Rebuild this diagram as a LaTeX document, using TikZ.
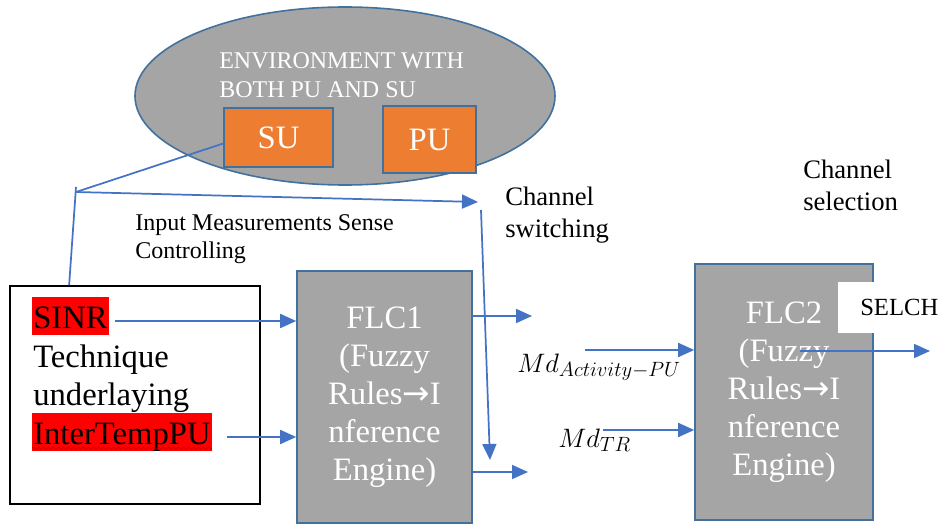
\documentclass[tikz,border=0pt]{standalone}
\usepackage{fix-cm}
\usepackage{fontspec}
\setmainfont{Liberation Serif}
\newfontfamily\arrowfont{DejaVu Sans}
\usetikzlibrary{arrows.meta,shapes.geometric,decorations.pathmorphing}

\definecolor{boxgray}{HTML}{A5A5A5}
\definecolor{rimblue}{HTML}{41719C}
\definecolor{arrowblue}{HTML}{4472C4}
\definecolor{suorange}{HTML}{ED7D31}
\newdimen\pxu
\pxu=0.75pt
\newcommand{\ruleto}{{\arrowfont →}}
\newcommand{\subtext}[1]{\mbox{\fontsize{15.5}{15.5}\selectfont$#1$}}

\tikzset{
    flow/.style={draw=arrowblue, line width=1.3pt, -{Triangle[length=12pt,width=10.5pt]}},
    wire/.style={draw=arrowblue, line width=1.3pt},
    bigtext/.style={font=\rmfamily\fontsize{24.5}{29}\selectfont, inner xsep=0},
    redmark/.style={bigtext, fill=red, inner xsep=1\pxu, inner ysep=0, text height=31\pxu, text depth=7\pxu},
    flcbox/.style={draw=rimblue, line width=1.2pt, fill=boxgray, text=white, align=center,
        font=\rmfamily\fontsize{24.5}{28.5}\selectfont},
    userbox/.style={draw=rimblue, line width=1.2pt, fill=suorange, text=white,
        font=\rmfamily\fontsize{24.5}{28}\selectfont},
    chantext/.style={font=\rmfamily\fontsize{20}{24}\selectfont, align=left, anchor=west, inner sep=0},
    mdtext/.style={anchor=base west, inner sep=0, font=\fontsize{20}{22}\selectfont}
}

\begin{document}
\begin{tikzpicture}[x=0.75pt, y=-0.75pt]
    \useasboundingbox (0,0) rectangle (942,524);

    % environment with the two users
    \node[ellipse, draw=rimblue, line width=1.2pt, fill=boxgray,
        minimum width=420\pxu, minimum height=178\pxu] (env) at (345,96) {};
    \node[text=white, align=left, anchor=west, inner sep=0,
        font=\rmfamily\fontsize{18}{22}\selectfont] (envtext) at (219,75) {ENVIRONMENT WITH\\BOTH PU AND SU};
    \node[userbox, minimum width=109\pxu, minimum height=59\pxu] (su) at (278.5,137.5) {SU};
    \node[userbox, minimum width=93\pxu, minimum height=67\pxu] (pu) at (429.5,139.5) {PU};

    % input measurements
    \node[draw=black, line width=1.3pt, minimum width=250\pxu, minimum height=218\pxu] (inbox) at (135,395) {};
    \node[redmark, anchor=base west] (sinr) at (32,328) {SINR};
    \node[bigtext, anchor=base west] (tech) at (33,367) {Technique};
    \node[bigtext, anchor=base west] (under) at (33,405) {underlaying};
    \node[redmark, anchor=base west] (inter) at (32,444) {InterTempPU};
    \draw[red!75!black, decorate, decoration={snake, amplitude=1.2\pxu, segment length=5\pxu}]
        ([yshift=3\pxu]inter.south west) -- ([yshift=3\pxu]inter.south east);
    \node[anchor=west, inner sep=0, align=left, font=\rmfamily\fontsize{18}{21}\selectfont] (sense) at (135,239)
        {Input Measurements Sense\\Controlling};

    % fuzzy controllers
    \node[flcbox, minimum width=175\pxu, minimum height=252\pxu] (flc1) at (384.5,397)
        {FLC1\\(Fuzzy\\Rules\ruleto I\\nference\\Engine)};
    \node[flcbox, minimum width=178\pxu, minimum height=256\pxu] (flc2) at (784,392)
        {FLC2\\(Fuzzy\\Rules\ruleto I\\nference\\Engine)};
    \fill[white] (838,282) rectangle (942,333);
    \node[anchor=west, inner sep=0, font=\rmfamily\fontsize{18.5}{22}\selectfont] (selch) at (860,307.5) {SELCH};

    \node[chantext] (switch) at (505,215) {Channel\\switching};
    \node[chantext] (select) at (803,185) {Channel\\selection};
    \node[mdtext] (mdact) at (517,372) {$Md_{\subtext{Activity{-}PU}}$};
    \node[mdtext] (mdtr) at (558,447) {$Md_{\subtext{TR}}$};

    % free ends
    \coordinate (tap) at (76,192);
    \coordinate (swtip) at (478,202);
    \coordinate (swtop) at (481,210);
    \coordinate (swend) at (490,460);
    \coordinate (sinrout) at (115,321);
    \coordinate (interout) at (227,437);
    \coordinate (out1) at (532,316);
    \coordinate (out2) at (528,472);
    \coordinate (actin) at (585,350);
    \coordinate (trin) at (603,430);
    \coordinate (selstart) at (800,351);
    \coordinate (selout) at (930,351);

    % connectors
    \draw[wire] ([yshift=-6\pxu]su.west) -- (tap);
    \draw[wire] ([yshift=5\pxu]tap) -- ([xshift=60\pxu]inbox.north west);
    \draw[flow] (tap) -- (swtip);
    \draw[flow] (swtop) -- (swend);
    \draw[flow] (sinrout) -- (sinrout -| flc1.west);
    \draw[flow] (interout) -- (interout -| flc1.west);
    \draw[flow] (out1 -| flc1.east) -- (out1);
    \draw[flow] (out2 -| flc1.east) -- (out2);
    \draw[flow] (actin) -- (actin -| flc2.west);
    \draw[flow] (trin) -- (trin -| flc2.west);
    \draw[flow] (selstart) -- (selout);
\end{tikzpicture}
\end{document}
